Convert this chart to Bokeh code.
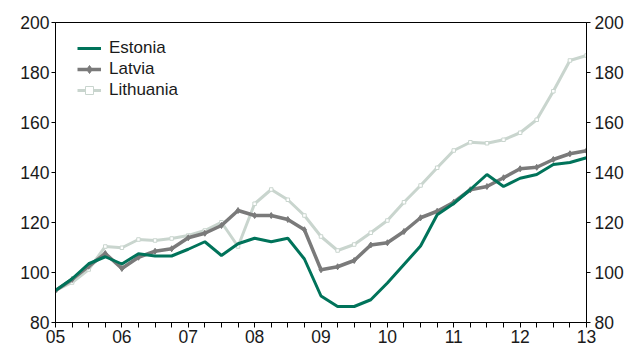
import pandas as pd
from bokeh.plotting import figure
from bokeh.models import FixedTicker, LinearAxis, Range1d, Legend, LegendItem
from bokeh.embed import file_html
from bokeh.resources import INLINE

# Quarterly periods 2005Q1 .. 2013Q1
quarters = pd.period_range("2005Q1", "2013Q1", freq="Q")

estonia = [92.8, 97.5, 103.5, 106.3, 103.4, 107.5, 106.6, 106.6, 109.3, 112.3,
           106.8, 111.5, 113.7, 112.3, 113.7, 105.4, 90.6, 86.4, 86.4, 89.1,
           95.8, 103.2, 110.6, 123.1, 127.6, 133.2, 139.2, 134.4, 137.7, 139.2,
           143.2, 144.0, 145.9]
latvia = [92.8, 97.2, 102.5, 107.6, 101.6, 106.1, 108.5, 109.5, 113.9, 115.7,
          118.8, 124.8, 122.8, 122.8, 121.2, 117.1, 101.1, 102.3, 104.8, 111.0,
          111.9, 116.4, 121.9, 124.5, 128.1, 133.1, 134.4, 137.9, 141.5, 142.1,
          145.2, 147.5, 148.7]
lithuania = [92.8, 96.0, 101.2, 110.4, 109.9, 113.2, 112.8, 113.6, 114.8, 116.8,
             120.1, 110.4, 127.5, 133.2, 129.1, 122.8, 114.4, 108.8, 111.2, 115.9,
             120.8, 128.1, 134.8, 141.9, 148.8, 152.1, 151.7, 153.1, 155.9, 161.1,
             172.5, 184.8, 186.8]

year_ticks = [5, 6, 7, 8, 9, 10, 11, 12, 13]
year_labels = ["05", "06", "07", "08", "09", "10", "11", "12", "13"]
y_ticks = [80, 100, 120, 140, 160, 180, 200]

x = [q.year - 2000 + (q.quarter - 1) / 4 for q in quarters]
minor = [t + k / 4 for t in year_ticks[:-1] for k in (1, 2, 3)]

FONT = "Liberation Sans"
EST_C = "#00735a"
LAT_C = "#7a7a7a"
LIT_C = "#c9d5ce"
TXT_C = "#1a1a1a"

p = figure(width=638, height=348, output_backend="svg", toolbar_location=None,
           x_range=Range1d(5, 13), y_range=Range1d(80, 200),
           min_border_left=55, min_border_right=52, min_border_top=22, min_border_bottom=26)
p.xgrid.visible = False
p.ygrid.visible = False
p.outline_line_color = "black"
p.outline_line_width = 1
p.background_fill_color = "white"
p.border_fill_color = "white"

# x axis
xa = p.xaxis[0]
xa.ticker = FixedTicker(ticks=year_ticks, minor_ticks=minor)
xa.major_label_overrides = {t: l for t, l in zip(year_ticks, year_labels)}
xa.major_tick_out = 5
xa.major_tick_in = 0
xa.minor_tick_out = 5
xa.minor_tick_in = 0
xa.major_label_standoff = 2
xa.major_label_text_font = FONT
xa.major_label_text_font_size = "17.5px"
xa.major_label_text_color = TXT_C
xa.axis_line_color = "black"

# left y axis
ya = p.yaxis[0]
ya.ticker = FixedTicker(ticks=y_ticks, minor_ticks=[])
ya.major_tick_out = 4
ya.major_tick_in = 0
ya.minor_tick_line_color = None
ya.major_label_standoff = 2
ya.major_label_text_font = FONT
ya.major_label_text_font_size = "17.5px"
ya.major_label_text_color = TXT_C

# right y axis
ra = LinearAxis(ticker=FixedTicker(ticks=y_ticks, minor_ticks=[]))
ra.major_tick_out = 4
ra.major_tick_in = 0
ra.minor_tick_line_color = None
ra.major_label_standoff = 4
ra.major_label_text_font = FONT
ra.major_label_text_font_size = "17.5px"
ra.major_label_text_color = TXT_C
p.add_layout(ra, "right")

# series
r_lit = p.line(x, lithuania, line_color=LIT_C, line_width=3)
s_lit = p.scatter(x, lithuania, marker="square", size=3.5, fill_color="white",
                  line_color=LIT_C, line_width=1)
r_lat = p.line(x, latvia, line_color=LAT_C, line_width=3.5)
s_lat = p.scatter(x, latvia, marker="diamond", size=6, fill_color=LAT_C,
                  line_color=LAT_C)
r_est = p.line(x, estonia, line_color=EST_C, line_width=3)

legend = Legend(items=[
    LegendItem(label="Estonia", renderers=[r_est]),
    LegendItem(label="Latvia", renderers=[r_lat, s_lat]),
    LegendItem(label="Lithuania", renderers=[r_lit, s_lit]),
], location=(22, 222))
legend.border_line_color = None
legend.background_fill_alpha = 0
legend.label_text_font = FONT
legend.label_text_font_size = "17px"
legend.label_text_color = TXT_C
legend.glyph_width = 24
legend.glyph_height = 20
legend.label_height = 20
legend.spacing = 1
legend.padding = 5
legend.margin = 0
legend.label_standoff = 8
p.add_layout(legend, "center")

open("out.html", "w").write(file_html(p, INLINE))
